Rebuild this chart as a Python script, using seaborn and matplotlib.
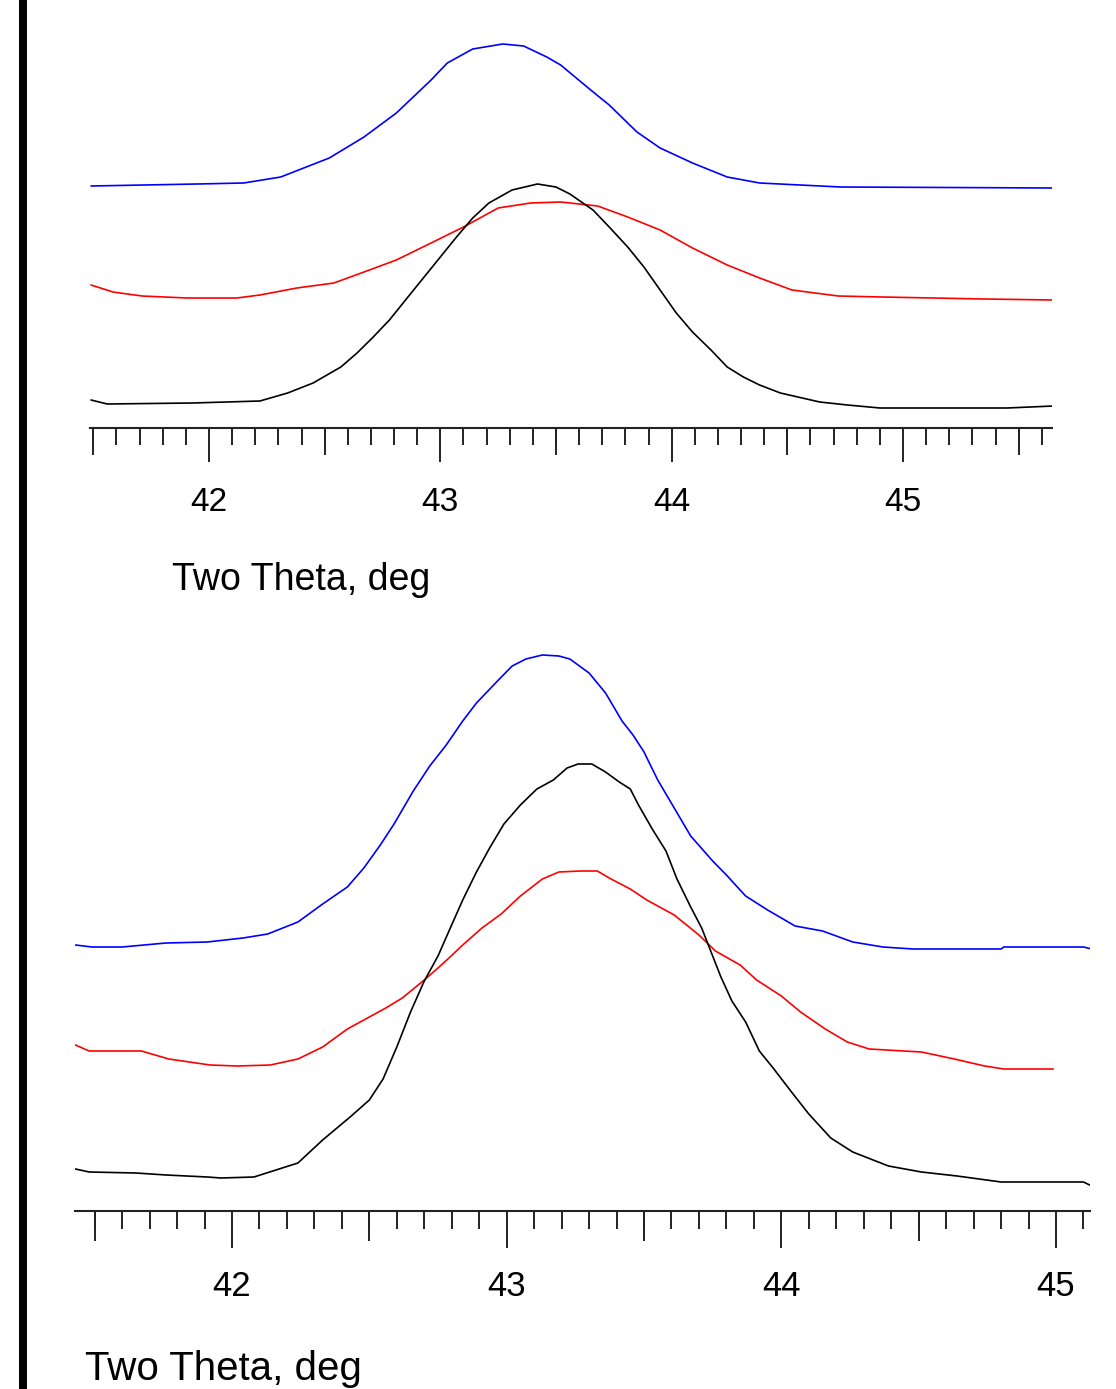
import numpy as np
import pandas as pd
import matplotlib
matplotlib.use("Agg")
import matplotlib.pyplot as plt
from matplotlib.ticker import MultipleLocator, FixedLocator
from matplotlib.patches import Rectangle
import seaborn as sns

# ---------------- data (2theta in deg, intensity in arbitrary units) ----------------
top_blue_theta = [41.49, 41.95, 42.15, 42.31, 42.52, 42.67, 42.81, 42.96, 43.03, 43.14, 43.27, 43.36,
                  43.46, 43.52, 43.65, 43.73, 43.85, 43.95, 44.09, 44.24, 44.38, 44.73, 45.65]
top_blue_int = [242, 244, 245, 251, 270, 291, 315, 348, 365, 379, 384, 382,
                371, 363, 338, 323, 296, 280, 265, 251, 245, 241, 240]

top_red_theta = [41.49, 41.585, 41.71, 41.905, 42.12, 42.22, 42.38, 42.54, 42.67, 42.81, 42.96, 43.10,
                 43.25, 43.39, 43.52, 43.68, 43.81, 43.95, 44.09, 44.24, 44.38, 44.52, 44.72, 44.91,
                 45.35, 45.65]
top_red_int = [143, 136, 132, 130, 130, 133, 140, 145, 156, 168, 185, 201,
               220, 225, 226, 222, 211, 198, 180, 163, 150, 138, 132, 131,
               129, 128]

top_black_theta = [41.49, 41.56, 41.93, 42.22, 42.34, 42.45, 42.57, 42.64, 42.71, 42.78, 42.86, 42.93,
                   43.00, 43.07, 43.14, 43.21, 43.31, 43.42, 43.50, 43.56, 43.66, 43.73, 43.81, 43.88,
                   43.95, 44.02, 44.09, 44.17, 44.24, 44.31, 44.38, 44.47, 44.64, 44.76, 44.90, 45.45,
                   45.65]
top_black_int = [28, 24, 25, 27, 35, 45, 61, 75, 91, 108, 131, 151,
                 171, 191, 210, 225, 238, 244, 241, 234, 218, 201, 181, 161,
                 138, 115, 96, 78, 61, 51, 43, 35, 26, 23, 20, 20,
                 22]

bot_blue_theta = [41.43, 41.49, 41.60, 41.76, 41.91, 42.04, 42.13, 42.24, 42.33, 42.42, 42.48, 42.54,
                  42.59, 42.66, 42.72, 42.78, 42.84, 42.89, 42.97, 43.02, 43.07, 43.13, 43.19, 43.23,
                  43.30, 43.36, 43.42, 43.46, 43.50, 43.55, 43.61, 43.67, 43.75, 43.80, 43.87, 43.95,
                  44.05, 44.15, 44.26, 44.37, 44.48, 44.80, 44.81, 45.10, 45.13]
bot_blue_int = [266, 264, 264, 268, 269, 273, 277, 289, 307, 324, 343, 366,
                387, 420, 445, 466, 490, 508, 531, 545, 552, 556, 555, 552,
                538, 518, 490, 476, 459, 431, 403, 375, 350, 336, 315, 301,
                285, 280, 269, 264, 262, 262, 264, 264, 262]

bot_red_theta = [41.43, 41.48, 41.67, 41.77, 41.92, 42.02, 42.14, 42.24, 42.33, 42.42, 42.50, 42.56,
                 42.62, 42.70, 42.75, 42.79, 42.84, 42.91, 42.98, 43.05, 43.13, 43.19, 43.27, 43.33,
                 43.38, 43.45, 43.51, 43.61, 43.70, 43.76, 43.85, 43.91, 44.00, 44.07, 44.16, 44.24,
                 44.32, 44.51, 44.63, 44.74, 44.81, 44.99]
bot_red_int = [166, 160, 160, 152, 146, 145, 146, 152, 164, 182, 194, 203,
               213, 231, 243, 253, 266, 283, 297, 315, 332, 339, 340, 340,
               332, 322, 311, 296, 276, 260, 246, 231, 215, 199, 182, 169,
               162, 159, 152, 145, 142, 142]

bot_black_theta = [41.43, 41.48, 41.65, 41.76, 41.91, 41.96, 42.08, 42.16, 42.24, 42.33, 42.43, 42.50,
                   42.55, 42.60, 42.65, 42.70, 42.75, 42.79, 42.84, 42.89, 42.94, 42.99, 43.05, 43.11,
                   43.17, 43.22, 43.26, 43.31, 43.36, 43.41, 43.45, 43.48, 43.53, 43.58, 43.62, 43.67,
                   43.71, 43.75, 43.78, 43.82, 43.87, 43.92, 43.97, 44.04, 44.10, 44.18, 44.26, 44.39,
                   44.51, 44.64, 44.80, 45.10, 45.13]
bot_black_int = [42, 39, 38, 36, 34, 33, 34, 41, 48, 71, 94, 111,
                 132, 164, 199, 230, 255, 280, 311, 339, 364, 387, 406, 422,
                 431, 443, 447, 447, 439, 429, 422, 406, 382, 360, 332, 304,
                 283, 255, 234, 210, 189, 160, 143, 118, 97, 73, 59, 45,
                 39, 35, 29, 29, 25]

tick_labels = ["42", "43", "44", "45"]
xlabel_text = "Two Theta, deg"
series_colors = {"blue": "#0000FF", "red": "#FF0000", "black": "#000000"}


def long_df(parts):
    frames = []
    for name, th, it in parts:
        frames.append(pd.DataFrame({"theta": th, "intensity": it, "series": name}))
    return pd.concat(frames, ignore_index=True)


top_df = long_df([("blue", top_blue_theta, top_blue_int),
                  ("red", top_red_theta, top_red_int),
                  ("black", top_black_theta, top_black_int)])
bot_df = long_df([("blue", bot_blue_theta, bot_blue_int),
                  ("red", bot_red_theta, bot_red_int),
                  ("black", bot_black_theta, bot_black_int)])

# ---------------- figure ----------------
sns.set_style("white")
plt.rcParams["font.family"] = ["Liberation Sans", "DejaVu Sans"]

W, H = 1116, 1389
fig = plt.figure(figsize=(W / 100, H / 100), dpi=100)
fig.patch.set_facecolor("white")


def px_axes(left, right, top, bottom):
    return fig.add_axes([left / W, 1 - bottom / H, (right - left) / W, (bottom - top) / H])


def style_axis(ax, xmin, xmax, ymax, L_major, L_mid, L_minor, fs, pad):
    ax.set_xlim(xmin, xmax)
    ax.set_ylim(0, ymax)
    ax.set_facecolor("none")
    for s in ["top", "left", "right"]:
        ax.spines[s].set_visible(False)
    ax.spines["bottom"].set_color("#222222")
    ax.spines["bottom"].set_linewidth(1.5)
    ax.set_yticks([])
    ax.set_xticks([42, 43, 44, 45])
    ax.set_xticklabels(tick_labels)
    ax.xaxis.set_minor_locator(MultipleLocator(0.1))
    ax.tick_params(axis="x", which="major", direction="out", bottom=True, length=L_major,
                   width=1.4, color="#222222", labelsize=fs, pad=pad, labelcolor="black")
    ax.tick_params(axis="x", which="minor", direction="out", bottom=True, length=L_minor,
                   width=1.4, color="#222222")
    ax.set_xlabel("")
    ax.set_ylabel("")
    sec = ax.secondary_xaxis("bottom")
    halves = [v + 0.5 for v in range(41, 46) if xmin <= v + 0.5 <= xmax]
    sec.xaxis.set_major_locator(FixedLocator(halves))
    sec.xaxis.set_minor_locator(FixedLocator([]))
    sec.tick_params(axis="x", which="major", direction="out", bottom=True, length=L_mid,
                    width=1.4, color="#222222", labelbottom=False)
    sec.spines["bottom"].set_visible(False)


# top panel: 42 at x=209 px, 45 at x=903 px
ax1 = px_axes(90, 1052, 0, 428)
sns.lineplot(data=top_df, x="theta", y="intensity", hue="series", units="series",
             estimator=None, sort=False, palette=series_colors, linewidth=1.2, ax=ax1, legend=False)
s1 = (903 - 209) / 3.0
style_axis(ax1, 42 + (90 - 209) / s1, 42 + (1052 - 209) / s1, 428,
           24.5, 19.5, 12.2, 24, 18)

# bottom panel: 42 at x=232 px, 45 at x=1056 px
ax2 = px_axes(75, 1090, 611, 1211)
sns.lineplot(data=bot_df, x="theta", y="intensity", hue="series", units="series",
             estimator=None, sort=False, palette=series_colors, linewidth=1.2, ax=ax2, legend=False)
s2 = (1056 - 232) / 3.0
style_axis(ax2, 42 + (75 - 232) / s2, 42 + (1090 - 232) / s2, 600,
           26.5, 21.5, 13.0, 25, 16)

# axis titles
fig.text(172 / W, 1 - 590 / H, xlabel_text, fontsize=27, ha="left", va="baseline", color="black")
fig.text(85 / W, 1 - 1380 / H, xlabel_text, fontsize=29, ha="left", va="baseline", color="black")

# thick vertical bar at left edge
fig.add_artist(Rectangle((19 / W, 0), 8 / W, 1, transform=fig.transFigure,
                         facecolor="black", edgecolor="none"))

fig.savefig("out.png", dpi=100)
